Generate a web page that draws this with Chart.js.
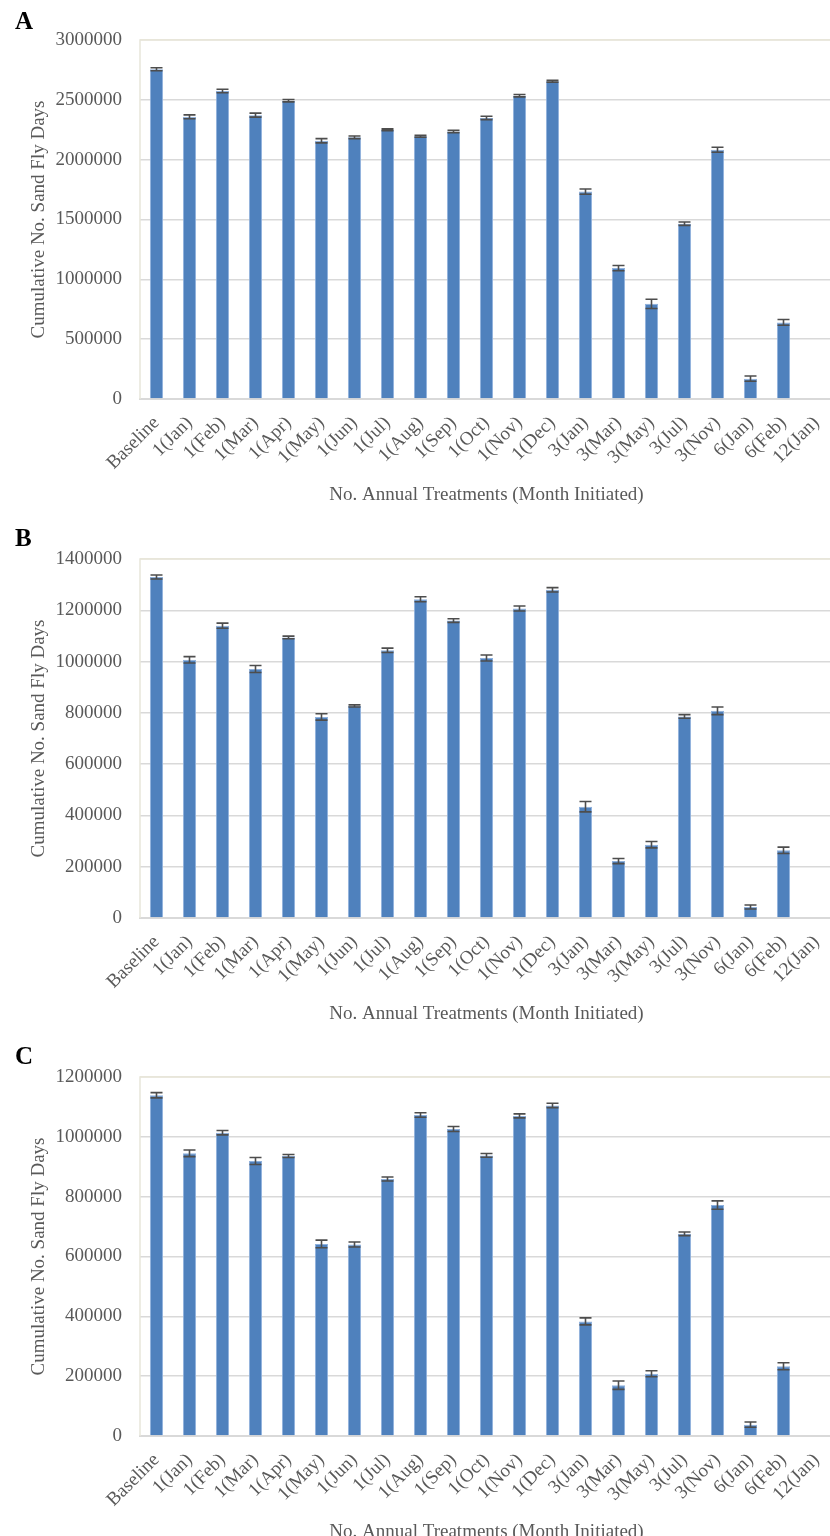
<!DOCTYPE html>
<html>
<head>
<meta charset="utf-8">
<script src="https://cdn.jsdelivr.net/npm/chart.js@4"></script>
<style>
  html, body { margin: 0; padding: 0; background: #fff; }
  body { width: 830px; height: 1536px; overflow: hidden; position: relative; }
  .panel { position: absolute; left: 0; width: 840px; height: 518px; }
  .panel canvas { display: block; }
  .tag { position: absolute; left: 15px; font: bold 25px "Liberation Serif", "Times New Roman", serif; color: #000; line-height: 1; }
</style>
</head>
<body>
<div class="panel" style="top:0px"><canvas id="chartA" width="840" height="518"></canvas></div>
<div class="panel" style="top:519px"><canvas id="chartB" width="840" height="518"></canvas></div>
<div class="panel" style="top:1037px"><canvas id="chartC" width="840" height="518"></canvas></div>
<div class="tag" style="top:8px">A</div>
<div class="tag" style="top:525px">B</div>
<div class="tag" style="top:1043px">C</div>
<script>
// Treatment schedules: number of annual treatments (month initiated)
const categories = ['Baseline', '1(Jan)', '1(Feb)', '1(Mar)', '1(Apr)', '1(May)', '1(Jun)', '1(Jul)',
  '1(Aug)', '1(Sep)', '1(Oct)', '1(Nov)', '1(Dec)', '3(Jan)', '3(Mar)', '3(May)', '3(Jul)', '3(Nov)',
  '6(Jan)', '6(Feb)', '12(Jan)'];

// Panel A: cumulative sand fly days and error half-widths
const valuesA = [2755000, 2358000, 2574000, 2372000, 2493000, 2158000, 2187000, 2250000, 2196000, 2236000,
  2349000, 2535000, 2656000, 1733000, 1094000, 795000, 1465000, 2083000, 170000, 640000, 0];
const errorsA = [12500, 16700, 15000, 16700, 10000, 18000, 11000, 7000, 8000, 10000,
  14000, 10000, 8000, 22000, 22000, 39000, 14000, 21000, 22000, 24000, 0];

// Panel B
const valuesB = [1330000, 1007000, 1140000, 971000, 1094000, 784000, 827000, 1044000, 1243000, 1160000,
  1014000, 1207000, 1280000, 434000, 222000, 286000, 786000, 808000, 43000, 264000, 0];
const errorsB = [7800, 12400, 9800, 13700, 5200, 12400, 4000, 8500, 9800, 7200,
  11700, 9800, 8500, 20200, 9800, 12400, 7200, 15000, 7800, 12400, 0];

// Panel C
const valuesC = [1139000, 945000, 1014000, 919000, 936000, 642000, 640000, 859000, 1073000, 1026000,
  938000, 1070000, 1105000, 383000, 170000, 208000, 676000, 772000, 38000, 233000, 0];
const errorsC = [8900, 11200, 7300, 11700, 5000, 12800, 8400, 6700, 7300, 8400,
  6100, 6700, 7300, 11700, 14000, 10000, 6100, 14000, 8900, 11700, 0];

// Value-axis ranges
const yMaxA = 3000000, yStepA = 500000;
const yMaxB = 1400000, yStepB = 200000;
const yMaxC = 1200000, yStepC = 200000;

const xTitle = 'No. Annual Treatments (Month Initiated)';
const yTitle = 'Cumulative No. Sand Fly Days';

const FONT = '"Liberation Serif", "Times New Roman", serif';
const TEXT = '#595959';
const GRID = '#d9d9d9';
const FRAME = '#e8e6da';

// Light frame around the plotting area
const framePlugin = {
  id: 'frame',
  beforeDatasetsDraw(chart) {
    const a = chart.chartArea, c = chart.ctx;
    c.save();
    c.strokeStyle = FRAME;
    c.lineWidth = 1.5;
    c.beginPath();
    c.moveTo(a.left, a.bottom);
    c.lineTo(a.left, a.top);
    c.lineTo(a.right, a.top);
    c.stroke();
    c.restore();
  }
};

// Error bars (value +/- half-width) drawn through the value scale
const errorBarPlugin = {
  id: 'errorBars',
  afterDatasetsDraw(chart, args, opts) {
    const errs = opts.errors || [];
    const meta = chart.getDatasetMeta(0);
    const ys = chart.scales.y;
    const vals = chart.data.datasets[0].data;
    const c = chart.ctx;
    c.save();
    c.strokeStyle = '#4d4d4d';
    c.lineWidth = 1.6;
    meta.data.forEach((bar, i) => {
      const e = errs[i];
      if (!e || !vals[i]) return;
      const x = bar.x;
      const yTop = ys.getPixelForValue(vals[i] + e);
      const yBot = ys.getPixelForValue(vals[i] - e);
      const cap = 6;
      c.beginPath();
      c.moveTo(x, yTop); c.lineTo(x, yBot);
      c.moveTo(x - cap, yTop); c.lineTo(x + cap, yTop);
      c.moveTo(x - cap, yBot); c.lineTo(x + cap, yBot);
      c.stroke();
    });
    c.restore();
  }
};

function makePanel(id, values, errors, yMax, yStep) {
  return new Chart(document.getElementById(id), {
    type: 'bar',
    data: {
      labels: categories,
      datasets: [{
        data: values,
        backgroundColor: '#4f81bd',
        borderColor: '#8fb1dd',
        borderWidth: 1,
        barPercentage: 0.4,
        categoryPercentage: 1.0
      }]
    },
    options: {
      responsive: false,
      animation: false,
      devicePixelRatio: 1,
      layout: { padding: { top: 40, right: 7, bottom: 0, left: 0 } },
      plugins: {
        legend: { display: false },
        tooltip: { enabled: false },
        errorBars: { errors: errors }
      },
      scales: {
        x: {
          grid: { display: false, drawTicks: false },
          border: { display: true, color: GRID, width: 2 },
          ticks: {
            color: TEXT,
            font: { family: FONT, size: 19 },
            maxRotation: 45,
            minRotation: 45,
            autoSkip: false,
            padding: 13
          },
          title: {
            display: true,
            text: xTitle,
            color: TEXT,
            font: { family: FONT, size: 19 },
            padding: { top: 0, bottom: 12 }
          },
          afterFit(scale) {
            scale.height = 119;
            scale.paddingLeft = 0;
            scale.paddingRight = 0;
          }
        },
        y: {
          min: 0,
          max: yMax,
          grid: {
            drawTicks: false,
            lineWidth: 1.5,
            color: (ctx) => (ctx.tick && ctx.tick.value === yMax ? FRAME : GRID)
          },
          border: { display: false },
          ticks: {
            stepSize: yStep,
            color: TEXT,
            font: { family: FONT, size: 19 },
            padding: 18,
            callback: (v) => String(v)
          },
          title: {
            display: true,
            text: yTitle,
            color: TEXT,
            font: { family: FONT, size: 19 },
            padding: { top: 28, bottom: 0 }
          },
          afterFit(scale) { scale.width = 140; }
        }
      }
    },
    plugins: [framePlugin, errorBarPlugin]
  });
}

makePanel('chartA', valuesA, errorsA, yMaxA, yStepA);
makePanel('chartB', valuesB, errorsB, yMaxB, yStepB);
makePanel('chartC', valuesC, errorsC, yMaxC, yStepC);
</script>
</body>
</html>
